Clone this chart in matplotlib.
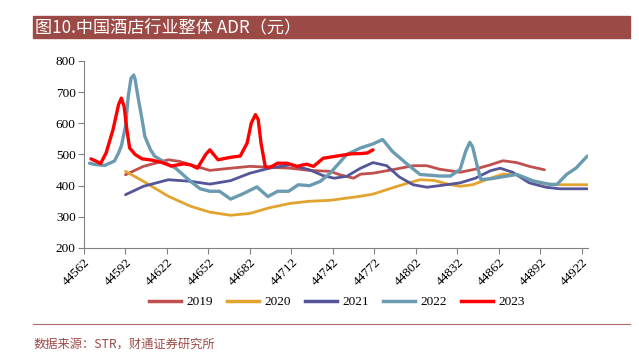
import matplotlib
matplotlib.use("Agg")
import matplotlib.pyplot as plt
from matplotlib.patches import Rectangle
from matplotlib.lines import Line2D

# x values are Excel date serials
d2019 = [44592, 44605, 44623, 44631, 44639, 44653, 44668, 44682, 44711, 44725, 44740, 44747,
         44757, 44762, 44771, 44785, 44800, 44810, 44819, 44834, 44845, 44856, 44865, 44875,
         44884, 44895]
v2019 = [435, 462, 483, 478, 467, 449, 456, 462, 456, 449, 446, 435,
         424, 437, 440, 451, 464, 464, 453, 443, 453, 467, 480, 474,
         462, 451]

d2020 = [44592, 44605, 44623, 44639, 44653, 44668, 44682, 44696, 44711, 44725, 44740, 44762,
         44771, 44785, 44796, 44805, 44815, 44825, 44834, 44843, 44856, 44865, 44875, 44884,
         44895, 44906, 44926]
v2020 = [446, 414, 366, 334, 315, 305, 311, 329, 343, 350, 353, 366,
         373, 393, 408, 419, 417, 405, 398, 403, 424, 437, 435, 419,
         406, 403, 403]

d2021 = [44592, 44605, 44623, 44639, 44653, 44668, 44682, 44696, 44711, 44725, 44735, 44743,
         44752, 44762, 44771, 44781, 44790, 44800, 44810, 44819, 44834, 44845, 44856, 44863,
         44872, 44884, 44896, 44906, 44926]
v2021 = [371, 398, 419, 414, 405, 416, 440, 456, 467, 451, 432, 424,
         430, 456, 474, 464, 428, 403, 395, 400, 409, 424, 448, 456,
         443, 409, 395, 390, 390]

d2022 = [44566, 44570, 44577, 44584, 44587, 44589, 44592, 44594, 44596, 44598, 44599, 44601,
         44604, 44606, 44610, 44613, 44621, 44628, 44639, 44646, 44653, 44660, 44668, 44677,
         44687, 44695, 44702, 44710, 44717, 44725, 44733, 44740, 44752, 44762, 44771, 44778,
         44785, 44796, 44805, 44819, 44827, 44834, 44838, 44841, 44843, 44846, 44849, 44856,
         44868, 44875, 44887, 44899, 44904, 44911, 44918, 44926]
v2022 = [472, 468, 465, 479, 505, 527, 590, 686, 745, 755, 740, 686,
         612, 558, 516, 495, 473, 457, 414, 390, 382, 382, 357, 374,
         396, 365, 382, 382, 403, 400, 414, 440, 500, 521, 534, 548,
         510, 468, 436, 431, 431, 452, 510, 539, 525, 470, 420, 422,
         431, 436, 415, 404, 404, 436, 457, 495]

d2023 = [44567, 44571, 44574, 44578, 44583, 44587, 44589, 44591, 44593, 44595, 44599, 44604,
         44611, 44618, 44625, 44634, 44639, 44644, 44650, 44653, 44659, 44668, 44675, 44680,
         44683, 44686, 44688, 44690, 44693, 44695, 44698, 44702, 44709, 44716, 44723, 44728,
         44735, 44745, 44755, 44762, 44767, 44771]
v2023 = [486, 478, 471, 505, 580, 660, 681, 654, 580, 521, 500, 486,
         482, 475, 463, 470, 467, 456, 500, 515, 483, 491, 495, 537,
         601, 628, 612, 537, 463, 458, 462, 472, 472, 462, 469, 462,
         488, 495, 502, 503, 505, 515]

labels = ["2019", "2020", "2021", "2022", "2023"]
colors = ["#C0504D", "#E3A32F", "#55559A", "#6A9BB0", "#FF0000"]
widths = [2.0, 2.0, 2.0, 2.4, 2.4]
xticks = list(range(44562, 44923, 30))

plt.rcParams['font.family'] = ['Liberation Serif', 'Noto Sans CJK SC', 'DejaVu Sans']

fig = plt.figure(figsize=(6.39, 3.53), dpi=100)
ax = fig.add_axes([84 / 639, 1 - 248 / 353, 504 / 639, 187 / 353])

series = [(d2019, v2019), (d2020, v2020), (d2021, v2021), (d2022, v2022), (d2023, v2023)]
for (d, v), lab, c, w in zip(series, labels, colors, widths):
    ax.plot(d, v, color=c, lw=w, label=lab, solid_capstyle='round', solid_joinstyle='round')

ax.set_xlim(44562, 44926.5)
ax.set_ylim(200, 800)
ax.set_xticks(xticks)
ax.set_xticklabels([str(t) for t in xticks], rotation=45, ha='right', rotation_mode='anchor')
ax.set_yticks(range(200, 801, 100))
ax.tick_params(axis='both', labelsize=9.5, color='#808080', length=4, direction='out', pad=2)
for s in ['top', 'right']:
    ax.spines[s].set_visible(False)
for s in ['left', 'bottom']:
    ax.spines[s].set_color('#808080')

handles = [Line2D([0], [0], color=c, lw=2.5) for c in colors]
fig.legend(handles, labels, loc='center', bbox_to_anchor=(337 / 639, 1 - 302 / 353), ncol=5,
           frameon=False, fontsize=9.5, handlelength=2.4, columnspacing=1.1, handletextpad=0.4)

# title bar
fig.patches.append(Rectangle((33 / 639, 1 - 38 / 353), 597 / 639, 22 / 353,
                             transform=fig.transFigure, color='#9C4A46', zorder=0))
fig.text(35 / 639, 1 - 27 / 353, "图10.中国酒店行业整体 ADR（元）", color='white',
         fontsize=12.3, va='center', ha='left', family=['Noto Sans CJK SC', 'DejaVu Sans'])

# source footnote
fig.add_artist(Line2D([33 / 639, 630 / 639], [1 - 324 / 353, 1 - 324 / 353],
                      transform=fig.transFigure, color='#B06A66', lw=0.8))
fig.text(34 / 639, 1 - 344 / 353, "数据来源：STR，财通证券研究所", color='#9C4A46',
         fontsize=8.8, va='center', ha='left', family=['Noto Sans CJK SC', 'DejaVu Sans'])

fig.savefig("out.png", dpi=100)
